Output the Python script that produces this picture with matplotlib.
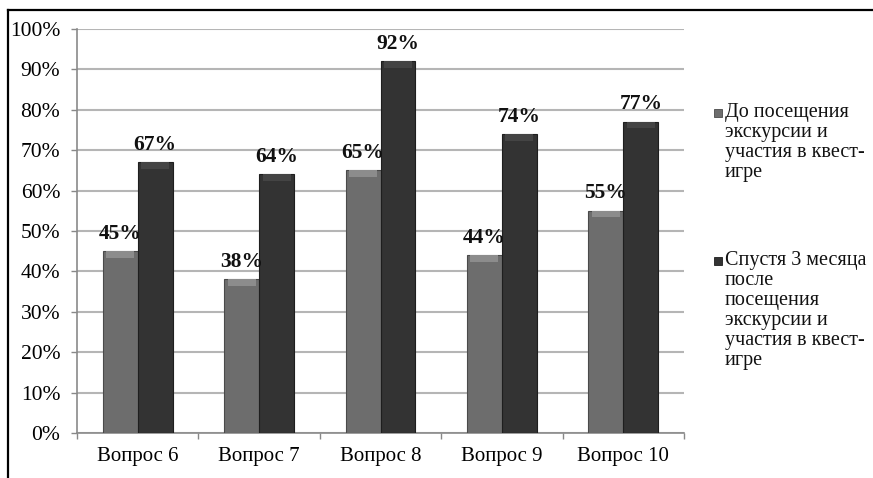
import matplotlib
matplotlib.use('Agg')
import matplotlib.pyplot as plt
import numpy as np
from matplotlib.lines import Line2D
from matplotlib.patches import Rectangle

categories = ['Вопрос 6', 'Вопрос 7', 'Вопрос 8', 'Вопрос 9', 'Вопрос 10']
before = [45, 38, 65, 44, 55]
after = [67, 64, 92, 74, 77]
series_names = ['До посещения\nэкскурсии и\nучастия в квест-\nигре',
                'Спустя 3 месяца\nпосле\nпосещения\nэкскурсии и\nучастия в квест-\nигре']
yticks = [0, 10, 20, 30, 40, 50, 60, 70, 80, 90, 100]

plt.rcParams['font.family'] = ['Liberation Serif', 'DejaVu Serif']

W, H = 873, 478
fig = plt.figure(figsize=(W / 100, H / 100), dpi=100)
ax = fig.add_axes([77 / W, 1 - 433 / H, (684 - 77) / W, (433 - 29) / H])

x = np.arange(len(categories))
bw = 0.288
c1, c2 = '#6d6d6d', '#333333'
cap1, cap2 = '#8c8c8c', '#444444'
b1 = ax.bar(x - bw / 2, before, bw, color=c1, edgecolor='#4a4a4a', linewidth=0.8, zorder=3)
b2 = ax.bar(x + bw / 2, after, bw, color=c2, edgecolor='#1e1e1e', linewidth=0.8, zorder=3)
# lighter bevel on top of every bar
cap = 1.6
ax.bar(x - bw / 2, cap, bw * 0.8, bottom=np.array(before) - cap, color=cap1, linewidth=0, zorder=4)
ax.bar(x + bw / 2, cap, bw * 0.8, bottom=np.array(after) - cap, color=cap2, linewidth=0, zorder=4)

for bars, vals in ((b1, before), (b2, after)):
    for r, v in zip(bars, vals):
        ax.annotate(f'{v}%', (r.get_x() + r.get_width() / 2, v),
                    xytext=(0, 9), textcoords='offset points',
                    ha='center', va='baseline', fontsize=15.5, fontweight='bold',
                    color='#111111', zorder=5)

ax.set_xlim(-0.5, len(categories) - 0.5)
ax.set_ylim(0, 100)
ax.set_yticks(yticks)
ax.set_yticklabels([f'{t}%' for t in yticks])
ax.set_xticks(x)
ax.set_xticklabels(categories)
ax.set_xticks(np.arange(len(categories) + 1) - 0.5, minor=True)
ax.tick_params(axis='x', which='major', length=0, pad=10, labelsize=15)
ax.tick_params(axis='x', which='minor', length=4.5, color='#888888', width=1)
ax.tick_params(axis='y', length=4, color='#888888', width=1, pad=8, labelsize=15.5)
ax.grid(axis='y', color='#b5b5b5', linewidth=1.5, zorder=0)
for s in ('top', 'right'):
    ax.spines[s].set_visible(False)
for s in ('left', 'bottom'):
    ax.spines[s].set_color('#8a8a8a')
    ax.spines[s].set_linewidth(1.2)

# legend drawn by hand so markers sit at the first line
legend_y = [103, 251]
for name, col, ec, ly in zip(series_names, [c1, c2], ['#4a4a4a', '#1e1e1e'], legend_y):
    fig.add_artist(Rectangle((714 / W, 1 - (ly + 14) / H), 8 / W, 8 / H,
                             transform=fig.transFigure, facecolor=col,
                             edgecolor=ec, linewidth=0.6))
    fig.text(725 / W, 1 - ly / H, name, ha='left', va='top', fontsize=14.5,
             linespacing=1.07, color='#111111')

# outer frame (left and top only)
fig.add_artist(Line2D([8 / W, 8 / W], [0, 1 - 10 / H], transform=fig.transFigure,
                      color='black', linewidth=1.6))
fig.add_artist(Line2D([8 / W, 1], [1 - 10 / H, 1 - 10 / H], transform=fig.transFigure,
                      color='black', linewidth=1.6))

fig.savefig('out.png', dpi=100)
